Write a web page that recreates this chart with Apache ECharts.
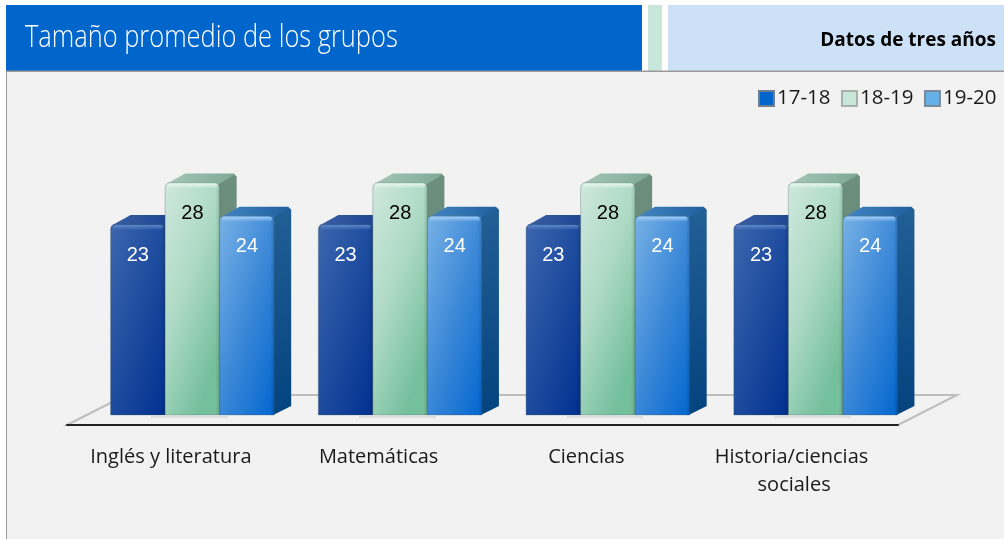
<!doctype html>
<html lang="es">
<head>
<meta charset="UTF-8">
<style>
html, body { margin: 0; padding: 0; background: #fff; }
#main { width: 1004px; height: 539px; }
</style>
</head>
<body>
<div id="main"></div>
<script src="https://cdn.jsdelivr.net/npm/echarts@6/dist/echarts.min.js"></script>
<script>
var categories = ['Inglés y literatura', 'Matemáticas', 'Ciencias', 'Historia/ciencias sociales'];
var seriesNames = ['17-18', '18-19', '19-20'];
var values1718 = [23, 23, 23, 23];
var values1819 = [28, 28, 28, 28];
var values1920 = [24, 24, 24, 24];

var font = '"Open Sans", "Noto Sans", sans-serif';

// colours of each bar: front gradient, top, side, label
var looks = [
    { front: ['#3d66ae', '#1d4b9e', '#002f90'], top: ['#3a5fa6', '#17408c'], side: ['#12397f', '#0a2f75'], shine: '#5d86c8', text: '#fff' },
    { front: ['#cfe8de', '#aedac5', '#74bf9c'], top: ['#a5c6b6', '#7fa995'], side: ['#6d8f7d', '#5f8270'], shine: '#e6f6ef', text: '#000' },
    { front: ['#78b2e6', '#3f8ad8', '#0668d0'], top: ['#4285c4', '#215f9f'], side: ['#225f95', '#03437f'], shine: '#a4cef2', text: '#fff' }
];

var barShare = 0.2625;  // bar width, part of one category band
var depthX = 17, depthY = 9;
var floorX = 59, floorY = 30;
var liftX = 21.5, liftY = 10;  // bars stand in the middle of the floor

function bar3d(index) {
    var look = looks[index];
    return function (params, api) {
        var band = api.size([1, 0])[0];
        var w = band * barShare;
        var top = api.coord([api.value(0), api.value(1)]);
        var base = api.coord([api.value(0), 0]);
        var x = top[0] + liftX + (index - 1) * w - w / 2;
        var y = top[1] - liftY;
        var h = base[1] - top[1];
        var children = [
            { type: 'polygon', shape: { points: [[x + w - 1, y + 1], [x + w + depthX - 3, y - depthY], [x + w + depthX, y - depthY + 3], [x + w + depthX, y + h - depthY], [x + w - 1, y + h]] },
              style: { fill: new echarts.graphic.LinearGradient(0, 0, 0, 1, [{ offset: 0, color: look.side[0] }, { offset: 1, color: look.side[1] }]) } },
            { type: 'polygon', shape: { points: [[x + 2, y + 1], [x + depthX + 3, y - depthY], [x + w + depthX - 3, y - depthY], [x + w + depthX - 3, y - depthY + 2], [x + w - 2, y + 2]] },
              style: { fill: new echarts.graphic.LinearGradient(0, 0, 1, 1, [{ offset: 0, color: look.top[0] }, { offset: 1, color: look.top[1] }]) } },
            { type: 'rect', shape: { x: x, y: y, width: w, height: h, r: [5, 5, 0, 0] },
              style: { fill: new echarts.graphic.LinearGradient(0, 0, 1.85, 0.155, [{ offset: 0, color: look.front[0] }, { offset: 0.5, color: look.front[1] }, { offset: 1, color: look.front[2] }]), stroke: 'rgba(70,90,90,0.3)', lineWidth: 1 } },
            { type: 'rect', shape: { x: x + w - 4, y: y + 2, width: 4, height: h - 2 },
              style: { fill: new echarts.graphic.LinearGradient(0, 0, 1, 0, [{ offset: 0, color: 'rgba(0,0,0,0)' }, { offset: 1, color: 'rgba(0,0,0,0.14)' }]) } },
            { type: 'rect', shape: { x: x + 2, y: y + 1, width: w - 4, height: 5, r: [3, 3, 0, 0] },
              style: { fill: new echarts.graphic.LinearGradient(0, 0, 0, 1, [{ offset: 0, color: look.shine }, { offset: 1, color: look.shine + '00' }]) } },
            { type: 'text', style: { x: x + w / 2, y: y + 31, text: String(api.value(1)), fill: look.text, align: 'center', verticalAlign: 'middle', font: '20px "Liberation Sans", Arial, sans-serif' } }
        ];
        // soft shadow on the floor under the middle bar
        if (index === 1) {
            children.unshift({ type: 'rect', shape: { x: x - 14, y: y + h + 1, width: w + 22, height: 3 },
                style: { fill: new echarts.graphic.LinearGradient(0, 0, 0, 1, [{ offset: 0, color: 'rgba(0,0,0,0.12)' }, { offset: 1, color: 'rgba(0,0,0,0)' }]) } });
        }
        return { type: 'group', children: children };
    };
}

function floor(params) {
    var c = params.coordSys;
    var yb = c.y + c.height;
    return {
        type: 'polygon',
        shape: { points: [[c.x, yb], [c.x + floorX, yb - floorY], [c.x + c.width + floorX, yb - floorY], [c.x + c.width, yb]] },
        style: { fill: '#f2f2f2', stroke: '#bdbdbd', lineWidth: 2 }
    };
}

function points(values) {
    return values.map(function (v, i) { return [i, v]; });
}

var myChart = echarts.init(document.getElementById('main'));

var option = {
    animation: false,
    backgroundColor: 'transparent',
    graphic: [
        { type: 'rect', z: 0, shape: { x: 6, y: 71, width: 998, height: 468 }, style: { fill: '#f2f2f2' } },
        { type: 'rect', z: 0, shape: { x: 6, y: 5, width: 636, height: 66 }, style: { fill: '#0066cc' } },
        { type: 'rect', z: 0, shape: { x: 648, y: 5, width: 14, height: 66 }, style: { fill: '#c8e6da' } },
        { type: 'rect', z: 0, shape: { x: 668, y: 5, width: 336, height: 66 }, style: { fill: '#cce0f6' } },
        { type: 'rect', z: 1, shape: { x: 6, y: 70.5, width: 998, height: 1.5 }, style: { fill: '#9a9a9a' } },
        { type: 'rect', z: 1, shape: { x: 6, y: 71, width: 1, height: 468 }, style: { fill: '#9a9a9a' } },
        { type: 'text', z: 1, x: 25, y: 38, scaleX: 0.82, style: { text: 'Tamaño promedio de los grupos', fill: '#fff', verticalAlign: 'middle', font: '300 31px ' + font } },
        { type: 'text', z: 1, x: 996, y: 41, style: { text: 'Datos de tres años', fill: '#000', align: 'right', verticalAlign: 'middle', font: 'bold 19px ' + font } }
    ],
    legend: {
        data: seriesNames,
        left: 753,
        top: 83,
        icon: 'rect',
        itemWidth: 15,
        itemHeight: 15,
        itemGap: 10.5,
        textStyle: { fontFamily: font, fontSize: 20.5, color: '#1a1a1a', padding: [0, 0, 0, -2] }
    },
    grid: { left: 67, width: 831, top: 176, height: 249 },
    xAxis: {
        type: 'category',
        data: categories,
        z: 2,
        axisTick: { show: false },
        axisLine: { lineStyle: { color: '#222', width: 2 } },
        axisLabel: { interval: 0, margin: 18, width: 190, overflow: 'break', lineHeight: 28, fontFamily: font, fontSize: 20, color: '#1a1a1a' }
    },
    yAxis: { type: 'value', min: 0, max: 30, show: false },
    series: [
        { type: 'custom', data: [[0, 0]], renderItem: floor, silent: true, z: 1 },
        { name: seriesNames[0], type: 'custom', data: points(values1718), renderItem: bar3d(0), encode: { x: 0, y: 1 }, itemStyle: { color: '#0066cc', borderColor: '#6f7f90', borderWidth: 1 }, z: 3 },
        { name: seriesNames[1], type: 'custom', data: points(values1819), renderItem: bar3d(1), encode: { x: 0, y: 1 }, itemStyle: { color: '#c8e6da', borderColor: '#a8b0ac', borderWidth: 1 }, z: 4 },
        { name: seriesNames[2], type: 'custom', data: points(values1920), renderItem: bar3d(2), encode: { x: 0, y: 1 }, itemStyle: { color: '#66b0e8', borderColor: '#7a8a98', borderWidth: 1 }, z: 5 }
    ]
};
myChart.setOption(option);
</script>
</body>
</html>
